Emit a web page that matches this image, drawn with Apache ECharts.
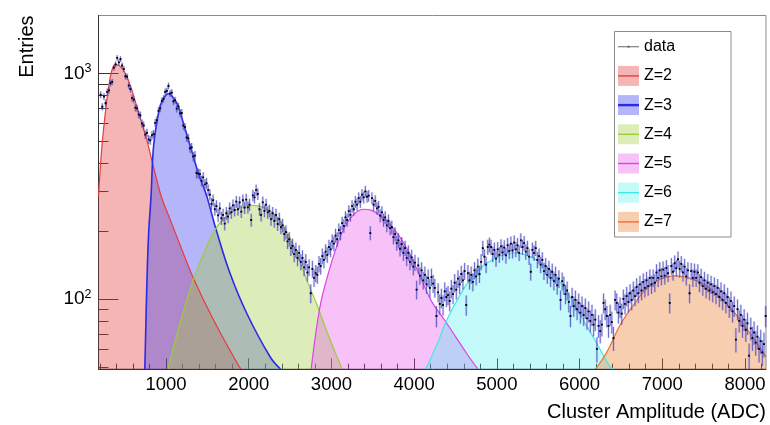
<!DOCTYPE html>
<html>
<head>
<meta charset="utf-8">
<script src="https://cdn.jsdelivr.net/npm/echarts@6/dist/echarts.min.js"></script>
<style>
  html, body { margin: 0; padding: 0; background: #fff; }
  #chart { width: 770px; height: 425px; }
</style>
</head>
<body>
<div id="chart"></div>
<script>
// Histogram binning of the cluster amplitude
const binStart = 200;
const binWidth = 20;

// Entries per bin (bin centres 210, 230, ... 8250)
const dataCounts = [
  805, 712, 790, 738, 828, 842, 905, 918, 1062, 1098, 1172, 1120, 1158, 1085, 1046, 972, 968, 884, 852, 778,
  765, 705, 700, 658, 652, 600, 588, 536, 545, 510, 505, 532, 538, 604, 620, 682, 700, 755, 772, 828,
  838, 880, 816, 822, 752, 760, 698, 714, 666, 668, 588, 578, 520, 516, 466, 470, 428, 432, 362, 360,
  358, 334, 346, 322, 326, 304, 290, 264, 274, 250, 258, 235, 252, 228, 236, 216, 240, 232, 252, 242,
  260, 248, 270, 250, 268, 244, 274, 254, 276, 255, 262, 224, 288, 282, 304, 292, 250, 236, 268, 246,
  262, 242, 246, 226, 240, 222, 236, 215, 226, 208, 212, 194, 198, 180, 184, 168, 172, 158, 165, 152,
  160, 146, 152, 138, 146, 131, 138, 106, 136, 124, 130, 128, 143, 140, 155, 149, 162, 157, 170, 166,
  180, 176, 191, 184, 202, 196, 217, 211, 230, 224, 245, 236, 258, 250, 270, 262, 280, 270, 290, 282,
  300, 284, 287, 196, 280, 262, 272, 252, 256, 234, 242, 224, 230, 212, 222, 206, 208, 188, 194, 177,
  182, 167, 175, 160, 168, 152, 160, 146, 153, 139, 145, 110, 141, 127, 134, 121, 128, 116, 124, 112,
  125, 117, 112, 84, 107, 95, 101, 94, 108, 102, 104, 98, 111, 105, 118, 110, 123, 116, 129, 121,
  133, 94, 130, 121, 128, 119, 134, 126, 139, 129, 146, 168, 154, 142, 170, 174, 170, 158, 165, 151,
  166, 157, 171, 161, 169, 156, 173, 163, 176, 164, 178, 166, 173, 160, 182, 170, 177, 162, 168, 154,
  132, 165, 160, 168, 149, 155, 142, 149, 133, 140, 128, 136, 124, 132, 120, 128, 115, 123, 99, 120,
  115, 105, 109, 97, 84, 102, 93, 99, 90, 96, 87, 93, 85, 91, 82, 88, 80, 85, 77, 81,
  60, 76, 72, 77, 96, 90, 84, 76, 85, 79, 67, 99, 96, 87, 92, 86, 100, 95, 103, 97,
  106, 99, 109, 103, 113, 106, 116, 109, 119, 112, 121, 114, 124, 116, 124, 118, 131, 124, 134, 126,
  135, 127, 137, 130, 96, 140, 132, 144, 137, 150, 136, 143, 131, 139, 126, 134, 106, 133, 124, 132,
  124, 131, 118, 125, 114, 121, 111, 118, 109, 116, 107, 114, 105, 112, 102, 108, 99, 106, 96, 102,
  92, 98, 88, 93, 66, 90, 80, 85, 76, 81, 73, 78, 56, 74, 67, 71, 64, 68, 60, 65,
  58, 63, 84
];

// Fitted charge components (amplitude, entries)
const z2X = [184, 222, 262, 302, 356, 404, 464, 525, 585, 646, 706, 767, 827, 888, 948, 1050, 1169, 1330, 1572, 1834, 1905];
const z2Y = [285, 459, 646, 849, 1060, 1094, 1060, 973, 849, 716, 604, 509, 415, 338, 281, 225, 174, 124, 81, 54, 48.9];

const z3X = [744, 770, 790, 819, 846, 888, 936, 988, 1028, 1088, 1149, 1209, 1270, 1330, 1391, 1451, 1500, 1613, 1774, 1976, 2258, 2383];
const z3Y = [48.9, 121, 195, 285, 459, 604, 728, 793, 813, 780, 716, 604, 509, 429, 362, 316, 280, 199, 130, 86.4, 55.4, 48.9];

const z4X = [1024, 1169, 1330, 1492, 1632, 1774, 1915, 2056, 2197, 2339, 2459, 2580, 2701, 2822, 2950, 3128];
const z4Y = [48.9, 78, 121.5, 171, 213, 240, 255, 260, 253, 232, 199, 160, 121.5, 95, 71, 48.9];

const z5X = [2755, 2862, 2963, 3064, 3164, 3265, 3386, 3487, 3608, 3729, 3850, 3971, 4092, 4213, 4394, 4636, 4770];
const z5Y = [48.9, 92.4, 130, 171, 210, 236, 250, 247, 232, 210, 183, 152, 121.5, 97.3, 78, 57.3, 48.9];

const z6X = [4142, 4192, 4300, 4394, 4555, 4716, 4878, 5039, 5220, 5401, 5562, 5724, 5885, 6046, 6208, 6369, 6417];
const z6Y = [48.9, 53.5, 66, 80.6, 104, 128, 144, 155, 160, 154, 142, 124, 102, 80.6, 63.6, 50, 48.9];

const z7X = [6193, 6329, 6490, 6651, 6812, 6973, 7155, 7336, 7518, 7699, 7880, 8061, 8254];
const z7Y = [48.9, 58, 76.6, 94, 111.6, 122.3, 126.5, 123.6, 115.4, 102, 86.4, 70.4, 55.5];

// Axis ticks and labels
const xMajorTicks = [1000, 2000, 3000, 4000, 5000, 6000, 7000, 8000];
const xMinorTicks = [200, 400, 600, 800, 1200, 1400, 1600, 1800, 2200, 2400, 2600, 2800, 3200, 3400, 3600, 3800,
  4200, 4400, 4600, 4800, 5200, 5400, 5600, 5800, 6200, 6400, 6600, 6800, 7200, 7400, 7600, 7800, 8200];
const yMajorTicks = [100, 1000];
const yMinorTicks = [50, 60, 70, 80, 90, 200, 300, 400, 500, 600, 700, 800, 900];

const componentNames = ['Z=2', 'Z=3', 'Z=4', 'Z=5', 'Z=6', 'Z=7'];
const componentX = [z2X, z3X, z4X, z5X, z6X, z7X];
const componentY = [z2Y, z3Y, z4Y, z5Y, z6Y, z7Y];
const lineColors = ['#e83a3a', '#2a2ae8', '#9ccc3c', '#e040e8', '#40e8e8', '#f07030'];
const fillColors = ['rgba(232,60,60,0.38)', 'rgba(60,60,240,0.38)', 'rgba(160,205,60,0.36)',
  'rgba(230,70,235,0.33)', 'rgba(60,240,240,0.30)', 'rgba(235,120,40,0.36)'];
const lineWidths = [1.2, 1.6, 1.2, 1.2, 1.2, 1.2];

const FONT = '"Liberation Sans", Arial, Helvetica, sans-serif';
const X_MIN = 184, X_MAX = 8254;
const Y_MIN = 48.9, Y_MAX = 1808;

const histData = dataCounts.map((n, i) => {
  const centre = binStart + binWidth / 2 + i * binWidth;
  return [centre, n, Math.sqrt(n)]; // Poisson error of each bin
});

const gridBox = { left: 98.5, right: 4, top: 15.5, bottom: 56 };

const componentSeries = componentNames.map((name, k) => ({
  type: 'line',
  name: name,
  xAxisIndex: 0,
  yAxisIndex: 0,
  data: componentX[k].map((x, i) => [x, componentY[k][i]]),
  smooth: 0.4,
  showSymbol: false,
  symbol: 'none',
  clip: true,
  lineStyle: { color: lineColors[k], width: lineWidths[k] },
  itemStyle: { color: lineColors[k] },
  areaStyle: { color: fillColors[k], origin: 'start', opacity: 1 },
  z: 2
}));

const dataSeries = {
  type: 'custom',
  name: 'data',
  xAxisIndex: 0,
  yAxisIndex: 0,
  data: histData,
  encode: { x: 0, y: 1 },
  clip: true,
  z: 4,
  renderItem: function (params, api) {
    const x = api.value(0), y = api.value(1), e = api.value(2);
    const c = api.coord([x, y]);
    const top = api.coord([x, y + e])[1];
    const bot = api.coord([x, Math.max(y - e, 1)])[1];
    const xl = api.coord([x - binWidth / 2, y])[0];
    const xr = api.coord([x + binWidth / 2, y])[0];
    return {
      type: 'group',
      children: [
        { type: 'rect', shape: { x: c[0] - 1.2, y: top, width: 2.4, height: bot - top },
          style: { fill: 'rgba(110,110,215,0.25)' } },
        { type: 'line', shape: { x1: c[0], y1: top, x2: c[0], y2: bot },
          style: { stroke: 'rgba(60,60,190,0.7)', lineWidth: 1 } },
        { type: 'line', shape: { x1: xl, y1: c[1], x2: xr, y2: c[1] },
          style: { stroke: '#111', lineWidth: 1 } },
        { type: 'rect', shape: { x: c[0] - 0.9, y: c[1] - 0.9, width: 1.8, height: 1.8 },
          style: { fill: '#000' } }
      ]
    };
  }
};

const legendRows = ['data'].concat(componentNames);
const legendCommon = {
  orient: 'vertical',
  left: 618,
  top: 36.7,
  padding: 0,
  itemGap: 9.2,
  itemWidth: 21,
  itemHeight: 20,
  selectedMode: false,
  z: 6
};

const chart = echarts.init(document.getElementById('chart'), null, { renderer: 'canvas' });
chart.setOption({
  animation: false,
  backgroundColor: '#fff',
  textStyle: { fontFamily: FONT },
  grid: [
    Object.assign({ show: true, borderColor: '#8c8c8c', borderWidth: 1, backgroundColor: 'transparent' }, gridBox),
    Object.assign({ show: false }, gridBox)
  ],
  xAxis: [
    {
      type: 'value', gridIndex: 0, min: X_MIN, max: X_MAX, position: 'bottom',
      axisLine: { show: true, lineStyle: { color: '#333', width: 1 } },
      axisTick: { show: true, inside: true, length: 10.6, customValues: xMajorTicks, lineStyle: { color: '#333' } },
      axisLabel: { show: true, customValues: xMajorTicks, margin: 6, color: '#000', fontSize: 18.5, fontFamily: FONT,
        formatter: function (v) { return String(v); } },
      splitLine: { show: false }
    },
    {
      type: 'value', gridIndex: 1, min: X_MIN, max: X_MAX, position: 'bottom',
      axisLine: { show: false },
      axisTick: { show: true, inside: true, length: 5.3, customValues: xMinorTicks, lineStyle: { color: '#333' } },
      axisLabel: { show: false },
      splitLine: { show: false }
    }
  ],
  yAxis: [
    {
      type: 'log', logBase: 10, gridIndex: 0, min: Y_MIN, max: Y_MAX, position: 'left',
      axisLine: { show: true, lineStyle: { color: '#333', width: 1 } },
      axisTick: { show: true, inside: true, length: 20, customValues: yMajorTicks, lineStyle: { color: '#333' } },
      axisLabel: {
        show: true, customValues: yMajorTicks, margin: 7, color: '#000',
        formatter: function (v) { return '{b|10}{s|' + Math.round(Math.log10(v)) + '}'; },
        rich: {
          b: { fontSize: 19, lineHeight: 22, fontFamily: FONT, color: '#000' },
          s: { fontSize: 12.5, lineHeight: 13, verticalAlign: 'top', fontFamily: FONT, color: '#000' }
        }
      },
      splitLine: { show: false }
    },
    {
      type: 'log', logBase: 10, gridIndex: 1, min: Y_MIN, max: Y_MAX, position: 'left',
      axisLine: { show: false },
      axisTick: { show: true, inside: true, length: 10, customValues: yMinorTicks, lineStyle: { color: '#333' } },
      axisLabel: { show: false },
      splitLine: { show: false }
    }
  ],
  legend: [
    Object.assign({}, legendCommon, {
      data: legendRows.map((name, i) => i === 0
        ? { name: name, icon: 'rect', itemStyle: { color: 'rgba(0,0,0,0)' } }
        : { name: name, icon: 'rect', itemStyle: { color: fillColors[i - 1], borderWidth: 0 } }),
      textStyle: { fontSize: 16, color: '#000', fontFamily: FONT, lineHeight: 20 }
    }),
    Object.assign({}, legendCommon, {
      data: legendRows.map((name, i) => i === 0
        ? { name: name, icon: 'path://M0,9.5h9.5v1h-9.5zM9.5,9h2v2h-2zM11.5,9.5h9.5v1h-9.5z', itemStyle: { color: '#666' } }
        : { name: name, icon: i === 2 ? 'path://M0,0h21v2.4h-21z' : 'path://M0,0h21v1.4h-21z',
            itemStyle: { color: lineColors[i - 1], borderWidth: 0 } }),
      textStyle: { fontSize: 16, color: 'rgba(0,0,0,0)', fontFamily: FONT, lineHeight: 20 }
    })
  ],
  graphic: [
    { type: 'rect', z: 5, shape: { x: 614.5, y: 31.5, width: 116.5, height: 205.5 },
      style: { fill: '#fff', stroke: '#8c8c8c', lineWidth: 1 } },
    { type: 'text', x: 27, y: 15.5, rotation: Math.PI / 2,
      style: { text: 'Entries', font: '20px ' + FONT, fill: '#000',
        textAlign: 'right', textVerticalAlign: 'middle', align: 'right', verticalAlign: 'middle' } },
    { type: 'text', x: 766, y: 412,
      style: { text: 'Cluster Amplitude (ADC)', font: '20px ' + FONT, fill: '#000',
        textAlign: 'right', textVerticalAlign: 'middle', align: 'right', verticalAlign: 'middle' } }
  ],
  series: componentSeries.concat([dataSeries])
});
</script>
</body>
</html>
